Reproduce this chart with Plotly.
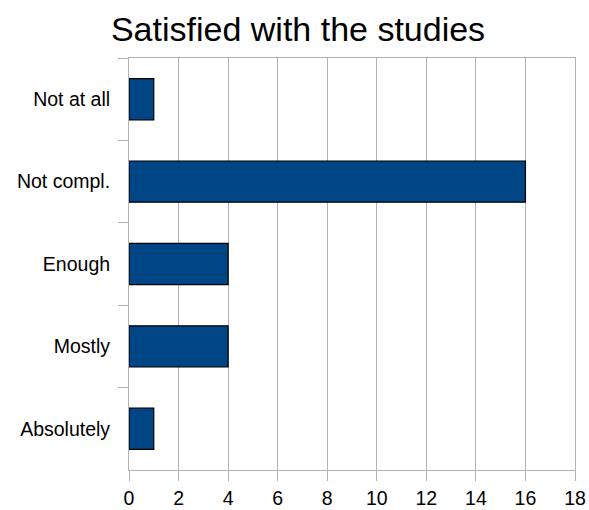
import plotly.graph_objects as go

categories = ["Not at all", "Not compl.", "Enough", "Mostly", "Absolutely"]
counts = [1, 16, 4, 4, 1]
x_ticks = [0, 2, 4, 6, 8, 10, 12, 14, 16, 18]

grid = "#b3b3b3"
font = "Liberation Sans, Arial, sans-serif"

fig = go.Figure(go.Bar(
    x=counts, y=categories, orientation="h", width=0.5,
    marker=dict(color="#004586", line=dict(color="#000000", width=1.2)),
))

fig.update_layout(
    width=589, height=510,
    margin=dict(l=129, r=14, t=58, b=40, autoexpand=False),
    paper_bgcolor="white", plot_bgcolor="white",
    showlegend=False,
    font=dict(family=font, color="#000000", size=16),
    title=dict(text="Satisfied with the studies", x=0.506, xanchor="center",
               y=0.942, yanchor="middle",
               font=dict(family=font, size=34, color="#000000")),
    bargap=0.5,
)
fig.update_xaxes(
    range=[0, 18], tickvals=x_ticks, showgrid=True, gridcolor=grid, gridwidth=1,
    zeroline=False, showline=True, linecolor=grid, linewidth=1, mirror=True,
    ticks="outside", ticklen=10, tickcolor=grid, automargin=False,
    ticklabelstandoff=1,
    tickfont=dict(family=font, size=19.5, color="#000000"),
)
fig.update_yaxes(
    type="category", categoryorder="array", categoryarray=categories,
    autorange="reversed", tickson="boundaries", showgrid=False,
    showline=True, linecolor=grid, linewidth=1, mirror=True,
    ticks="outside", ticklen=10, tickcolor=grid, automargin=False,
    ticklabelstandoff=14,
    tickfont=dict(family=font, size=19.5, color="#000000"),
)

fig.write_html("out.html", config={"displayModeBar": False},
               post_script="document.body.style.margin='0';document.body.style.overflow='hidden';")
